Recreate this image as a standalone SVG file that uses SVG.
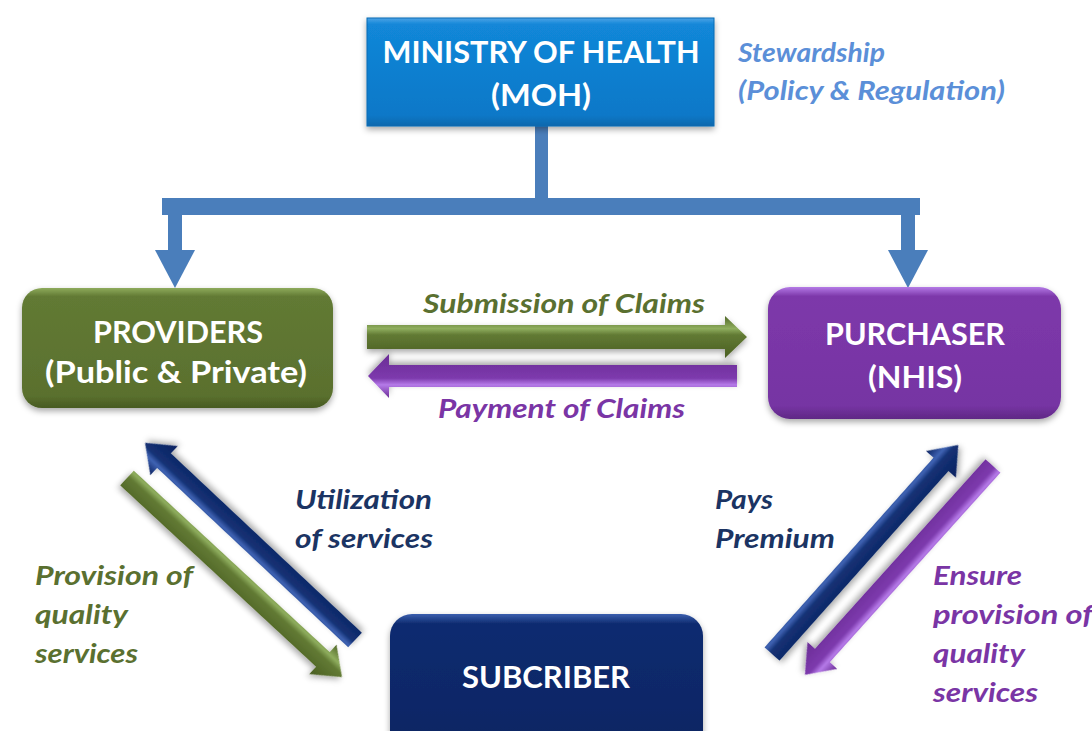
<svg xmlns="http://www.w3.org/2000/svg" width="1092" height="731" viewBox="0 0 1092 731">
  <defs>
    <style>
      .title { font-family: Lato, "Liberation Sans", sans-serif; font-weight: bold; font-size: 30px; fill: #ffffff; text-anchor: middle; }
      .lbl { font-family: Lato, "Liberation Sans", sans-serif; font-weight: bold; font-style: italic; font-size: 26px; }
      .green { fill: #5a7030; }
      .purple { fill: #7a35a5; }
      .navy { fill: #1b3463; }
      .sky { fill: #5b8fd8; }
      .link { fill: #4a7ebb; }
    </style>
    <filter id="shadow" x="-10%" y="-10%" width="120%" height="130%">
      <feDropShadow dx="0" dy="3" stdDeviation="3" flood-color="#000" flood-opacity="0.35"/>
    </filter>
    <linearGradient id="gMoh" x1="0" y1="0" x2="0" y2="1">
      <stop offset="0" stop-color="#4da3e6"/>
      <stop offset="0.06" stop-color="#1287d8"/>
      <stop offset="0.9" stop-color="#0c78c8"/>
      <stop offset="1" stop-color="#0a68ad"/>
    </linearGradient>
    <linearGradient id="gProv" x1="0" y1="0" x2="0" y2="1">
      <stop offset="0" stop-color="#8eab5c"/>
      <stop offset="0.07" stop-color="#627a34"/>
      <stop offset="0.9" stop-color="#5a702e"/>
      <stop offset="1" stop-color="#475a22"/>
    </linearGradient>
    <linearGradient id="gPurch" x1="0" y1="0" x2="0" y2="1">
      <stop offset="0" stop-color="#b47ae6"/>
      <stop offset="0.07" stop-color="#7d38aa"/>
      <stop offset="0.9" stop-color="#7634a3"/>
      <stop offset="1" stop-color="#5f2885"/>
    </linearGradient>
    <linearGradient id="gSub" x1="0" y1="0" x2="0" y2="1">
      <stop offset="0" stop-color="#3b5fae"/>
      <stop offset="0.07" stop-color="#0f2b70"/>
      <stop offset="1" stop-color="#0c2562"/>
    </linearGradient>
    <!-- bevelled arrow fills, gradient runs across the shaft -->
    <linearGradient id="aGreen" x1="0" y1="0" x2="0" y2="1">
      <stop offset="0" stop-color="#4f6526"/>
      <stop offset="0.3" stop-color="#8fae5e"/>
      <stop offset="0.45" stop-color="#627a34"/>
      <stop offset="1" stop-color="#4a5f22"/>
    </linearGradient>
    <linearGradient id="aPurple" x1="0" y1="0" x2="0" y2="1">
      <stop offset="0" stop-color="#6a2c95"/>
      <stop offset="0.3" stop-color="#b57ae8"/>
      <stop offset="0.45" stop-color="#7d3aad"/>
      <stop offset="1" stop-color="#6a2c95"/>
    </linearGradient>
    <linearGradient id="aNavy" x1="0" y1="0" x2="0" y2="1">
      <stop offset="0" stop-color="#0b2260"/>
      <stop offset="0.3" stop-color="#3f63b3"/>
      <stop offset="0.45" stop-color="#143174"/>
      <stop offset="1" stop-color="#0b2260"/>
    </linearGradient>
  </defs>

  <rect width="1092" height="731" fill="#ffffff"/>

  <!-- connectors -->
  <g id="connectors">
    <!-- MOH stewardship tree -->
    <g class="link">
      <rect x="535" y="126" width="13" height="76"/>
      <rect x="162" y="198" width="758" height="17"/>
      <rect x="168" y="212" width="14" height="40"/>
      <polygon points="155,250 195,250 175,288"/>
      <rect x="901" y="212" width="14" height="40"/>
      <polygon points="888,250 928,250 908,288"/>
    </g>
    <!-- Submission of Claims -->
    <path transform="translate(367,337)" fill="url(#aGreen)" filter="url(#shadow)"
          d="M0,-12 L358,-12 L358,-21 L380,0 L358,21 L358,12 L0,12 Z"/>
    <!-- Payment of Claims -->
    <path transform="translate(737,376) rotate(180)" fill="url(#aPurple)" filter="url(#shadow)"
          d="M0,-11 L348,-11 L348,-22 L369,0 L348,22 L348,11 L0,11 Z"/>
    <!-- Utilization of services -->
    <path transform="translate(355,640) rotate(223.2)" fill="url(#aNavy)" filter="url(#shadow)"
          d="M0,-10 L262,-10 L262,-20 L288,0 L262,20 L262,10 L0,10 Z"/>
    <!-- Provision of quality services -->
    <path transform="translate(127,478) rotate(42.8)" fill="url(#aGreen)" filter="url(#shadow)"
          d="M0,-10 L267,-10 L267,-20 L293,0 L267,20 L267,10 L0,10 Z"/>
    <!-- Pays Premium -->
    <path transform="translate(772,654) rotate(-48.3)" fill="url(#aNavy)" filter="url(#shadow)"
          d="M0,-10 L254,-10 L254,-20 L280,0 L254,20 L254,10 L0,10 Z"/>
    <!-- Ensure provision of quality services -->
    <path transform="translate(993,466) rotate(132)" fill="url(#aPurple)" filter="url(#shadow)"
          d="M0,-10 L255,-10 L255,-20 L281,0 L255,20 L255,10 L0,10 Z"/>

    <text class="lbl green" x="423" y="313" textLength="282" lengthAdjust="spacingAndGlyphs">Submission of Claims</text>
    <text class="lbl purple" x="438" y="418" textLength="247" lengthAdjust="spacingAndGlyphs">Payment of Claims</text>
    <text class="lbl navy" x="295" y="509" textLength="137" lengthAdjust="spacingAndGlyphs">Utilization</text>
    <text class="lbl navy" x="295" y="548" textLength="138" lengthAdjust="spacingAndGlyphs">of services</text>
    <text class="lbl green" x="35" y="585" textLength="158" lengthAdjust="spacingAndGlyphs">Provision of</text>
    <text class="lbl green" x="35" y="624" textLength="93" lengthAdjust="spacingAndGlyphs">quality</text>
    <text class="lbl green" x="35" y="663" textLength="103" lengthAdjust="spacingAndGlyphs">services</text>
    <text class="lbl navy" x="715" y="509" textLength="58" lengthAdjust="spacingAndGlyphs">Pays</text>
    <text class="lbl navy" x="715" y="548" textLength="120" lengthAdjust="spacingAndGlyphs">Premium</text>
    <text class="lbl purple" x="933" y="585" textLength="89" lengthAdjust="spacingAndGlyphs">Ensure</text>
    <text class="lbl purple" x="933" y="624" textLength="160" lengthAdjust="spacingAndGlyphs">provision of</text>
    <text class="lbl purple" x="933" y="663" textLength="92" lengthAdjust="spacingAndGlyphs">quality</text>
    <text class="lbl purple" x="933" y="702" textLength="105" lengthAdjust="spacingAndGlyphs">services</text>
  </g>

  <!-- Ministry of Health -->
  <g id="moh">
    <rect x="367" y="18" width="347" height="108" fill="url(#gMoh)" stroke="#0a6bb3" stroke-width="1" filter="url(#shadow)"/>
    <text class="title" x="541" y="63" textLength="317" lengthAdjust="spacingAndGlyphs">MINISTRY OF HEALTH</text>
    <text class="title" x="541" y="106" textLength="100" lengthAdjust="spacingAndGlyphs">(MOH)</text>
    <text class="lbl sky" x="738" y="62" textLength="147" lengthAdjust="spacingAndGlyphs">Stewardship</text>
    <text class="lbl sky" x="738" y="100" textLength="267" lengthAdjust="spacingAndGlyphs">(Policy &amp; Regulation)</text>
  </g>

  <!-- Providers -->
  <g id="providers">
    <rect x="22" y="288" width="311" height="120" rx="20" fill="url(#gProv)" filter="url(#shadow)"/>
    <text class="title" x="178" y="343" textLength="170" lengthAdjust="spacingAndGlyphs">PROVIDERS</text>
    <text class="title" x="176" y="383" textLength="262" lengthAdjust="spacingAndGlyphs">(Public &amp; Private)</text>
  </g>

  <!-- Purchaser -->
  <g id="purchaser">
    <rect x="768" y="287" width="293" height="132" rx="22" fill="url(#gPurch)" filter="url(#shadow)"/>
    <text class="title" x="915" y="345" textLength="180" lengthAdjust="spacingAndGlyphs">PURCHASER</text>
    <text class="title" x="915" y="388" textLength="94" lengthAdjust="spacingAndGlyphs">(NHIS)</text>
  </g>

  <!-- Subscriber -->
  <g id="subscriber">
    <rect x="390" y="614" width="313" height="140" rx="22" fill="url(#gSub)" filter="url(#shadow)"/>
    <text class="title" x="546" y="688" textLength="168" lengthAdjust="spacingAndGlyphs">SUBCRIBER</text>
  </g>
</svg>
